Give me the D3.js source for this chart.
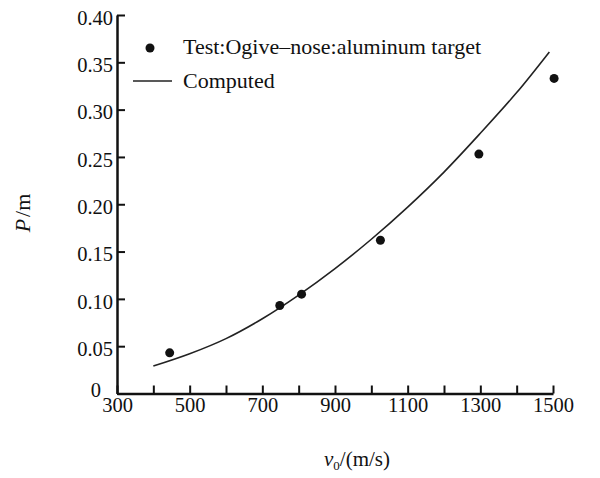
<!DOCTYPE html>
<html>
<head>
<meta charset="utf-8">
<script src="https://cdn.jsdelivr.net/npm/d3@7"></script>
<style>
  body { margin: 0; background: #fff; }
  text { font-family: "Liberation Serif", "Times New Roman", serif; fill: #111; }
</style>
</head>
<body>
<div class="chart"></div>
<script>
'use strict';

// test points: velocity (m/s) and penetration depth (m)
const testV = [445, 748, 808, 1025, 1296, 1503];
const testP = [0.043, 0.093, 0.105, 0.162, 0.253, 0.333];

// computed curve
const curveV = [400, 500, 600, 700, 800, 900, 1000, 1100, 1200, 1300, 1400, 1490];
const curveP = [0.029, 0.042, 0.058, 0.079, 0.104, 0.132, 0.163, 0.197, 0.234, 0.275, 0.318, 0.361];

const xTicks = [300, 400, 500, 600, 700, 800, 900, 1000, 1100, 1200, 1300, 1400, 1500];
const xLabels = [300, 500, 700, 900, 1100, 1300, 1500];
const yTicks = [0, 0.05, 0.10, 0.15, 0.20, 0.25, 0.30, 0.35, 0.40];

const legendLabels = ["Test:Ogive\u2013nose:aluminum target", "Computed"];

(function() {
    let svg = d3.select('.chart').append('svg')
        .attr('width', 600).attr('height', 478);

    let xScale = d3.scaleLinear().domain([300, 1500]).range([117, 553]);
    let yScale = d3.scaleLinear().domain([0, 0.40]).range([393.5, 15]);

    // x axis, ticks pointing inward
    let xAxis = d3.axisBottom(xScale)
        .tickValues(xTicks)
        .tickSizeInner(-8).tickSizeOuter(0)
        .tickPadding(12)
        .tickFormat(d => xLabels.includes(d) ? d : '');
    let gx = svg.append('g')
        .attr('transform', 'translate(0,' + yScale(0) + ')')
        .call(xAxis);

    let yAxis = d3.axisLeft(yScale)
        .tickValues(yTicks)
        .tickSizeInner(-8).tickSizeOuter(0)
        .tickPadding(12)
        .tickFormat(d => d === 0 ? '0' : d.toFixed(2));
    let gy = svg.append('g')
        .attr('transform', 'translate(' + xScale(300) + ',0)')
        .call(yAxis);

    [gx, gy].forEach(g => {
        g.select('.domain').attr('stroke', '#111').attr('stroke-width', 2.5);
        g.selectAll('.tick line').attr('stroke', '#111').attr('stroke-width', 2);
        g.selectAll('.tick text')
            .attr('font-family', '"Liberation Serif", serif')
            .attr('font-size', 20.5)
            .attr('fill', '#111');
    });
    gx.selectAll('.tick text').attr('dy', '0.32em');
    gy.selectAll('.tick text').attr('dy', '0.45em').attr('x', -4);
    // keep the "0" clear of the "300" below it
    gy.selectAll('.tick text').filter(d => d === 0).attr('dy', '0.15em').attr('x', -16);

    // computed curve
    let pts = curveV.map((v, i) => [v, curveP[i]]);
    let line = d3.line()
        .x(d => xScale(d[0]))
        .y(d => yScale(d[1]))
        .curve(d3.curveCatmullRom);
    svg.append('path')
        .attr('d', line(pts))
        .attr('fill', 'none')
        .attr('stroke', '#222')
        .attr('stroke-width', 1.6);

    // test points
    svg.selectAll('.dot')
        .data(testV.map((v, i) => [v, testP[i]]))
        .enter()
        .append('circle')
        .attr('cx', d => xScale(d[0]))
        .attr('cy', d => yScale(d[1]))
        .attr('r', 4.5)
        .attr('fill', '#111');

    // legend
    svg.append('circle').attr('cx', 150).attr('cy', 48).attr('r', 4.5).attr('fill', '#111');
    svg.append('text').attr('x', 183).attr('y', 54)
        .style('font-size', '22px').text(legendLabels[0]);
    svg.append('line').attr('x1', 133).attr('x2', 172).attr('y1', 81).attr('y2', 81)
        .attr('stroke', '#222').attr('stroke-width', 1.6);
    svg.append('text').attr('x', 183).attr('y', 88)
        .style('font-size', '22px').text(legendLabels[1]);

    // axis titles
    let yt = svg.append('text')
        .attr('transform', 'translate(30,213)rotate(-90)')
        .attr('text-anchor', 'middle')
        .style('font-size', '22px');
    yt.append('tspan').style('font-style', 'italic').text('P');
    yt.append('tspan').attr('dx', 2).text('/m');

    let xt = svg.append('text')
        .attr('x', 357).attr('y', 466)
        .attr('text-anchor', 'middle')
        .style('font-size', '21px');
    xt.append('tspan').style('font-style', 'italic').text('v');
    xt.append('tspan').attr('dy', 4).style('font-size', '13px').text('0');
    xt.append('tspan').attr('dy', -4).text('/(m/s)');
})();
</script>
</body>
</html>
